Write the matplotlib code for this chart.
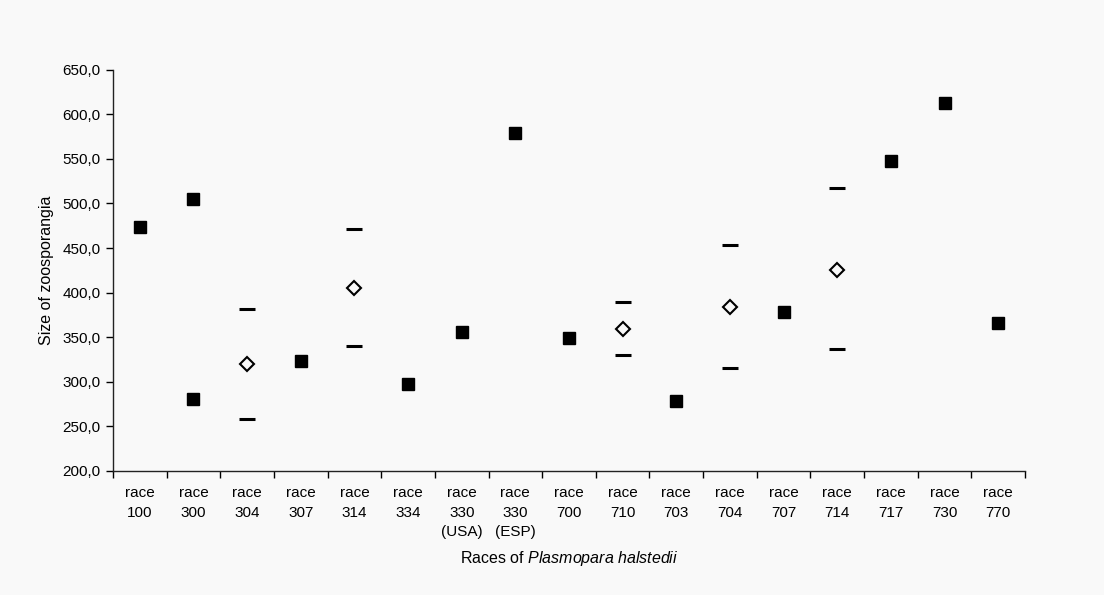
import matplotlib
matplotlib.use("Agg")
import matplotlib.pyplot as plt
import numpy as np

plt.rcParams['font.family'] = ['Liberation Sans', 'DejaVu Sans']
plt.rcParams['mathtext.fontset'] = 'custom'
plt.rcParams['mathtext.rm'] = 'Liberation Sans'
plt.rcParams['mathtext.it'] = 'Liberation Sans:italic'

# categories (x axis)
race_labels = ["race\n100", "race\n300", "race\n304", "race\n307", "race\n314",
               "race\n334", "race\n330\n(USA)", "race\n330\n(ESP)", "race\n700",
               "race\n710", "race\n703", "race\n704", "race\n707", "race\n714",
               "race\n717", "race\n730", "race\n770"]

# single measurements (filled squares) - index into race_labels
square_idx = [0, 1, 1, 3, 5, 6, 7, 8, 10, 12, 14, 15, 16]
square_val = [474, 505, 281, 323, 297, 356, 579, 349, 278.5, 378, 548, 612, 366]

# ranges: mean (open diamond), max and min (dashes)
range_idx = [2, 4, 9, 11, 13]
mean_val = [319.6, 405.5, 359.5, 383.5, 425.3]
max_val = [381.6, 471.6, 389.5, 453.7, 517.3]
min_val = [258.0, 340.0, 329.7, 315.1, 336.8]

bg = '#f9f9f9'
fig = plt.figure(figsize=(11.04, 5.95), dpi=100, facecolor=bg)
ax = fig.add_axes([113 / 1104, 1 - 471 / 595, 912 / 1104, (471 - 69.6) / 595])
ax.set_facecolor(bg)

sx = np.array(square_idx) + 1
rx = np.array(range_idx) + 1

ax.plot(sx, square_val, linestyle='none', marker='s', markersize=9.3,
        color='black', zorder=3)
ax.plot(rx, mean_val, linestyle='none', marker='D', markersize=7,
        markerfacecolor=bg, markeredgecolor='black', markeredgewidth=1.5, zorder=3)
ax.plot(rx, max_val, linestyle='none', marker='_', markersize=11,
        markeredgewidth=2.2, color='black', zorder=3)
ax.plot(rx, min_val, linestyle='none', marker='_', markersize=11,
        markeredgewidth=2.2, color='black', zorder=3)

ax.set_xlim(0.5, len(race_labels) + 0.5)
ax.set_ylim(200, 650)

ax.set_yticks(np.arange(200, 651, 50))
ax.set_yticklabels([f"{v:.1f}".replace('.', ',') for v in np.arange(200, 651, 50)],
                   fontsize=11)

ax.set_xticks(np.arange(1, len(race_labels) + 1))
ax.set_xticklabels(race_labels, fontsize=11, linespacing=1.5, va='top')
ax.set_xticks(np.arange(0.5, len(race_labels) + 1), minor=True)
ax.tick_params(axis='x', which='major', length=0, pad=11)
ax.tick_params(axis='x', which='minor', length=5, width=1, direction='out')
ax.tick_params(axis='y', length=5, width=1, direction='out', pad=4)

for s in ['top', 'right']:
    ax.spines[s].set_visible(False)
for s in ['left', 'bottom']:
    ax.spines[s].set_linewidth(1)
    ax.spines[s].set_color('#222222')

ax.set_ylabel("Size of zoosporangia", fontsize=11.5, labelpad=6)
fig.text(0.5155, 1 - 558 / 595, r"Races of $\it{Plasmopara\ halstedii}$",
         ha='center', va='center', fontsize=11.5)

fig.savefig("out.png", dpi=100, facecolor=bg)
